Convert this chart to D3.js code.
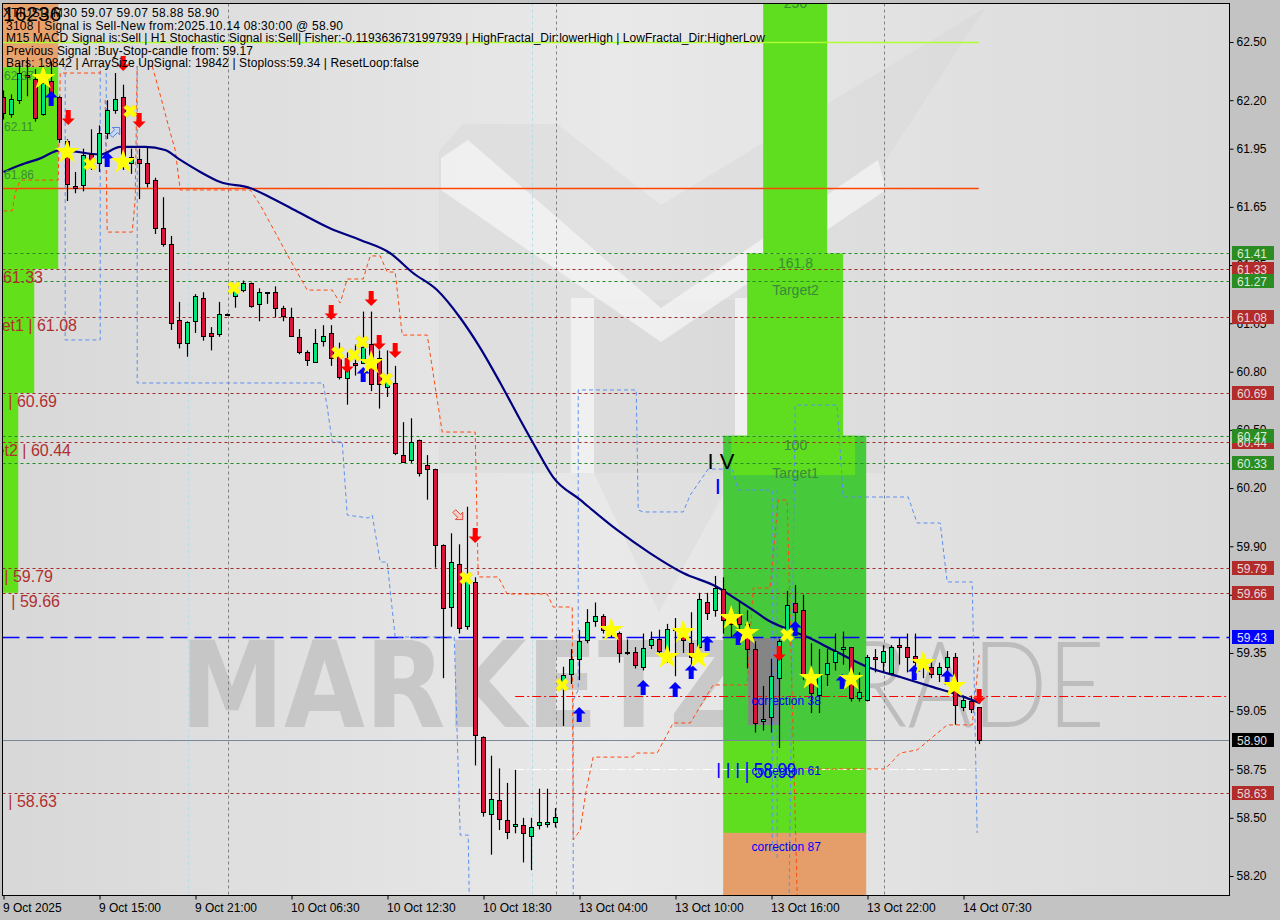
<!DOCTYPE html>
<html><head><meta charset="utf-8">
<script src="https://cdn.jsdelivr.net/npm/d3@7"></script>
<style>
body{margin:0;background:#c3c3c3;}
svg{display:block;font-family:"Liberation Sans",Arial,sans-serif;}
</style>
</head><body>
<svg id="c" width="1280" height="920"></svg>
<script>
// ---------------- DATA ----------------
const xLabels = ["9 Oct 2025","9 Oct 15:00","9 Oct 21:00","10 Oct 06:30","10 Oct 12:30","10 Oct 18:30","13 Oct 04:00","13 Oct 10:00","13 Oct 16:00","13 Oct 22:00","14 Oct 07:30"];
const xLabelIdx = [0,12,24,36,48,60,72,84,96,108,120];
const yTicks = [62.50,62.20,61.95,61.65,61.35,61.05,60.80,60.50,60.20,59.90,59.65,59.35,59.05,58.75,58.50,58.20];

const opens  = [62.215,62.13,62.20,62.33,62.31,62.13,62.30,62.215,61.99,61.76,61.76,61.92,61.875,62.03,62.15,62.215,61.875,61.895,61.875,61.79,61.54,61.46,61.067,60.947,61.063,61.18,61.00,60.995,61.097,61.19,61.218,61.256,61.147,61.21,61.21,61.127,61.083,60.977,60.90,60.847,60.958,60.998,60.88,60.77,60.847,60.847,60.943,60.87,60.723,60.743,60.37,60.345,60.447,60.317,60.297,59.907,59.585,59.807,59.49,59.717,58.918,58.52,58.59,58.49,58.458,58.463,58.41,58.466,58.47,58.478,59.207,59.24,59.317,59.413,59.516,59.54,59.47,59.455,59.357,59.357,59.277,59.39,59.42,59.36,59.48,59.46,59.40,59.38,59.614,59.57,59.678,59.52,59.55,59.50,59.369,59.00,59.018,59.22,59.46,59.606,59.571,59.24,59.133,59.24,59.305,59.369,59.38,59.12,59.107,59.327,59.305,59.245,59.39,59.379,59.334,59.31,59.28,59.24,59.276,59.33,59.07,59.10,59.07];
const highs  = [62.25,62.23,62.39,62.42,62.36,62.38,62.40,62.22,62.00,61.83,61.95,62.05,62.07,62.20,62.34,62.28,61.95,61.95,61.96,61.80,61.70,61.50,61.16,61.06,61.20,61.21,61.03,61.16,61.10,61.24,61.27,61.26,61.23,61.21,61.24,61.14,61.13,61.02,60.91,61.02,61.04,61.04,60.95,60.90,60.94,61.11,61.11,60.91,60.91,60.83,60.54,60.56,60.45,60.37,60.30,59.91,59.967,59.91,60.104,59.74,58.92,58.82,58.755,58.68,58.747,58.50,58.50,58.65,58.65,58.55,59.279,59.37,59.468,59.576,59.61,59.55,59.50,59.46,59.42,59.38,59.45,59.46,59.47,59.50,59.53,59.47,59.56,59.66,59.66,59.747,59.74,59.58,59.62,59.57,59.41,59.18,59.32,59.42,59.67,59.70,59.65,59.40,59.37,59.37,59.45,59.46,59.38,59.25,59.34,59.37,59.39,59.39,59.43,59.45,59.45,59.34,59.30,59.30,59.36,59.35,59.13,59.13,59.07];
const lows   = [62.10,62.11,62.18,62.22,62.09,62.12,62.18,61.98,61.68,61.72,61.73,61.84,61.83,62.00,62.13,61.84,61.82,61.69,61.75,61.51,61.445,61.015,60.92,60.877,61.00,60.96,60.91,60.98,61.09,61.13,61.21,61.13,61.06,61.15,61.08,61.06,60.98,60.89,60.83,60.845,60.93,60.83,60.76,60.63,60.78,60.84,60.70,60.61,60.67,60.37,60.33,60.33,60.26,60.14,59.79,59.22,59.485,59.45,59.47,58.77,58.506,58.31,58.437,58.39,58.42,58.27,58.23,58.44,58.45,58.45,58.973,59.19,59.21,59.40,59.485,59.45,59.43,59.30,59.34,59.27,59.26,59.37,59.34,59.30,59.23,59.35,59.28,59.32,59.52,59.537,59.45,59.43,59.40,59.27,58.94,58.95,58.94,58.86,59.45,59.50,59.21,59.04,59.04,59.18,59.26,59.29,59.10,59.10,59.10,59.25,59.25,59.24,59.29,59.25,59.28,59.22,59.22,59.20,59.20,58.98,59.05,59.04,58.88];
const closes = [62.13,62.205,62.34,62.32,62.11,62.29,62.22,62.00,61.77,61.75,61.915,61.89,62.03,62.15,62.205,61.91,61.905,61.875,61.77,61.54,61.46,61.055,60.947,61.055,61.19,60.985,60.985,61.097,61.097,61.22,61.256,61.135,61.21,61.21,61.127,61.087,60.985,60.90,60.857,60.947,60.985,60.87,60.77,60.81,60.838,60.93,60.735,60.735,60.749,60.38,60.336,60.44,60.276,60.297,59.907,59.583,59.817,59.477,59.735,58.927,58.532,58.595,58.49,58.43,58.47,58.42,58.455,58.48,58.48,58.506,59.236,59.317,59.41,59.508,59.54,59.468,59.46,59.35,59.357,59.288,59.377,59.42,59.36,59.475,59.47,59.42,59.33,59.627,59.557,59.686,59.52,59.50,59.50,59.37,58.987,59.01,59.23,59.413,59.597,59.56,59.241,59.14,59.24,59.297,59.362,59.379,59.116,59.15,59.327,59.317,59.362,59.379,59.379,59.328,59.305,59.28,59.245,59.276,59.328,59.08,59.107,59.06,58.90];

// moving average (bar index, price)
const maLine = [[0,61.83],[2.1,61.866],[4.6,61.90],[7.1,61.943],[12.1,61.92],[14.6,61.959],[17.7,61.959],[20.2,61.943],[22.1,61.892],[24.6,61.83],[27.1,61.778],[30.8,61.747],[33.3,61.70],[37.1,61.618],[40.8,61.54],[44.6,61.479],[48.3,61.412],[51.2,61.309],[54.2,61.221],[57.1,61.077],[59.6,60.922],[62.1,60.742],[64.6,60.551],[66.7,60.396],[68.7,60.257],[72.1,60.139],[76.7,59.984],[80.8,59.865],[84.96,59.762],[89.2,59.69],[91.2,59.638],[93.7,59.571],[95.5,59.52],[98.3,59.468],[100.5,59.432],[103.7,59.365],[108.0,59.278],[112.1,59.226],[116.2,59.174],[118.7,59.143],[122.1,59.091]];

// fractal channel (blue dashed) segments
const blueSteps = [
 [[7.71,62.376],[7.71,60.964],[12.09,60.964],[12.09,62.376]],
 [[12.84,62.376],[12.84,61.959]],
 [[16.71,62.376],[16.71,60.742],[39.96,60.742],[40.46,60.618],[41.09,60.438],[42.34,60.438],[42.96,60.061],[45.59,60.046],[46.09,60.061],[47.09,59.819],[47.96,59.819],[48.96,59.432],[56.34,59.432],[57.09,58.411],[58.09,58.411],[58.21,58.097]],
 [[71.21,58.097],[71.21,59.107],[71.84,59.159],[71.84,60.706],[79.09,60.706],[79.34,60.087],[79.96,60.077],[84.96,60.077],[85.84,60.164],[88.09,60.298],[91.09,60.298],[91.84,60.19],[96.09,60.19],[96.09,58.318]],
 [[96.71,60.19],[96.71,58.282]],
 [[98.21,58.112],[98.96,60.628],[104.21,60.628],[104.96,60.154],[113.09,60.154],[114.2,60.02],[117.09,60.02],[117.96,59.716],[121.09,59.716],[121.71,58.422]]
];
// orange dashed step line segments
const orangeSteps = [
 [[-0.04,61.629],[1.09,61.629],[1.46,61.721],[2.09,61.788],[6.84,61.788],[7.09,62.34],[12.09,62.34],[12.09,62.376]],
 [[12.71,62.201],[12.96,61.52],[16.09,61.52],[16.46,61.685],[16.71,62.376]],
 [[18.59,62.376],[19.59,62.227],[20.59,62.072],[21.46,61.943],[22.09,61.737],[30.84,61.737],[32.09,61.66],[35.84,61.376],[37.96,61.221],[41.09,61.221],[42.09,61.154],[42.96,61.278],[44.96,61.278],[45.84,61.397],[47.09,61.397],[47.96,61.314],[48.96,61.314],[49.84,60.989],[52.96,60.989],[54.84,60.489],[58.96,60.489],[59.34,59.742],[61.84,59.742],[62.96,59.654],[67.96,59.654],[68.71,59.587],[71.09,59.587],[71.21,58.386],[72.09,58.437],[72.84,58.643],[73.71,58.813],[78.71,58.813],[79.09,58.834],[81.71,58.834],[83.71,58.989],[85.84,58.989],[88.71,59.185],[92.96,59.185],[93.71,59.685],[95.84,59.685],[96.84,60.139],[97.96,60.139],[99.21,58.097]],
 [[99.21,58.752],[110.21,58.752],[112.09,58.834],[114.21,58.85],[117.96,58.979],[121.09,58.979],[121.96,59.339]]
];

// levels
const greenLevels = [61.41,61.27,60.47,60.33];
const redLevels   = [61.33,61.08,60.69,60.44,59.79,59.66,58.63];
const blueLevel = 59.43, lastPrice = 58.90, limeLevel = 62.50, orangeLevel = 61.746;
const redDashDot = {price:59.128, from:63.96};
const whiteDashDot = {price:58.752, from:63.96, to:121.9};
const gridIdx = [28,69,110];
const cyanIdx = [23,66];

// left labels
const leftLabels = [
 {t:"61.33", p:61.33, end:43},
 {t:"Target1 | 61.08", p:61.08, end:77},
 {t:"| 60.69", p:60.69, end:57},
 {t:"Target2 | 60.44", p:60.44, end:71},
 {t:"| 59.79", p:59.79, end:53},
 {t:"| 59.66", p:59.66, end:60},
 {t:"| 58.63", p:58.63, end:57}
];
const zoneLevelLabels = [{t:"62.37",p:62.37},{t:"62.11",p:62.11},{t:"61.86",p:61.86}];

// signals
const downArrows = [[8.09,62.113],[14.96,62.392],[16.96,62.098],[40.96,61.108],[42.96,60.835],[45.96,61.18],[46.96,60.953],[48.96,60.912],[58.96,59.958],[96.96,59.35],[121.96,59.128]];
const upArrows = [[5.96,62.206],[12.96,61.892],[44.96,60.783],[71.96,59.03],[79.96,59.169],[83.96,59.159],[85.96,59.252],[87.96,59.396],[91.84,59.427],[98.96,59.473],[104.84,59.2],[113.84,59.247],[117.96,59.221]];
const stars = [[4.96,62.314],[7.96,61.933],[14.96,61.881],[45.96,60.845],[75.96,59.468],[82.96,59.329],[84.96,59.458],[86.84,59.329],[90.96,59.53],[92.96,59.453],[100.96,59.221],[105.96,59.216],[114.96,59.298],[118.84,59.18]];
const crosses = [[10.84,61.871],[15.84,62.144],[28.84,61.232],[41.84,60.897],[43.84,60.886],[44.84,60.953],[47.84,60.762],[57.84,59.736],[69.84,59.185],[97.96,59.443]];
const hollowDown = [[56.84,60.061]];
const hollowUp = [[13.96,62.036]];

// zones (bar index range, price range)
const leftZones = [
 {x0:-0.6,x1:6.84,p0:62.70,p1:62.37,c:"#e8a26c"},
 {x0:-0.6,x1:6.84,p0:62.37,p1:61.33,c:"#62e01a"},
 {x0:-0.6,x1:3.84,p0:61.33,p1:60.69,c:"#62e01a"},
 {x0:-0.6,x1:1.84,p0:60.69,p1:59.66,c:"#62e01a"}
];
const targetZones = [
 {x0:94.96,x1:102.96,p0:62.70,p1:61.41,c:"#5ede1e"},
 {x0:92.96,x1:104.96,p0:61.41,p1:60.47,c:"#5ede1e"},
 {x0:89.96,x1:107.84,p0:60.47,p1:58.90,c:"#46c93a"},
 {x0:89.96,x1:107.84,p0:58.90,p1:58.422,c:"#5ede1e"},
 {x0:90.96,x1:106.46,p0:60.47,p1:60.267,c:"#5ede1e"},
 {x0:89.96,x1:107.84,p0:58.422,p1:58.00,c:"#e59e6a"}
];
const zoneTexts = [
 {t:"250",i:99.0,p:62.70,c:"#3a8a3a"},
 {t:"161.8",i:99.0,p:61.36,c:"#3a8a3a"},
 {t:"Target2",i:99.0,p:61.22,c:"#3a8a3a"},
 {t:"100",i:99.0,p:60.42,c:"#3a8a3a"},
 {t:"Target1",i:99.0,p:60.28,c:"#3a8a3a"}
];
const blueTexts = [
 {t:"correction 38",i:93.5,p:59.10},
 {t:"correction 61",i:93.5,p:58.74},
 {t:"correction 87",i:93.5,p:58.35}
];

const infoLines = [
 "3108 | Signal is Sell-New from:2025.10.14 08:30:00 @ 58.90",
 "M15 MACD Signal is:Sell | H1 Stochastic Signal is:Sell| Fisher:-0.1193636731997939 | HighFractal_Dir:lowerHigh | LowFractal_Dir:HigherLow",
 "Previous Signal :Buy-Stop-candle from: 59.17",
 "Bars: 19842 | ArraySize UpSignal: 19842 | Stoploss:59.34 | ResetLoop:false"
];
const infoLengths = [337,759,247,413];

// ---------------- DRAW ----------------
const svg = d3.select("#c");
const L=2.5,T=3.5,R=1229.5,B=895.5;
const x = d3.scaleLinear().domain([0,122]).range([3.5,979.5]);
const y = d3.scaleLinear().domain([58.2,62.5]).range([876,42]);

const defs = svg.append("defs");
const g1 = defs.append("linearGradient").attr("id","bg").attr("x1","0").attr("x2","1").attr("y1","0").attr("y2","0");
g1.append("stop").attr("offset","0").attr("stop-color","#d8d8d8");
g1.append("stop").attr("offset","0.5").attr("stop-color","#e9e9e9");
g1.append("stop").attr("offset","1").attr("stop-color","#dadada");
defs.append("clipPath").attr("id","clip").append("rect").attr("x",L+0.5).attr("y",T+0.5).attr("width",R-L-1).attr("height",B-T-1);

svg.append("rect").attr("width",1280).attr("height",920).attr("fill","#c3c3c3");
svg.append("rect").attr("x",L).attr("y",T).attr("width",R-L).attr("height",B-T).attr("fill","url(#bg)");

const P = svg.append("g").attr("clip-path","url(#clip)");

// watermark logo (decorative)
const logo = P.append("g");
const lp = (a)=>a.map(d=>d.join(",")).join(" ");
logo.append("polygon").attr("points",lp([[439,151],[463,124],[557,124],[661,205],[985,8],[886,160],[886,473],[439,473]])).attr("fill","#cfcfcf").attr("opacity",0.3);
logo.append("polygon").attr("points",lp([[594,300],[735,300],[735,473],[659,612],[594,473]])).attr("fill","#cfcfcf").attr("opacity",0.3);
logo.append("polygon").attr("points",lp([[441,158],[468,140],[661,308],[878,160],[886,190],[661,342],[441,190]])).attr("fill","#f6f6f6").attr("opacity",0.7);
logo.append("rect").attr("x",571).attr("y",298).attr("width",23).attr("height",175).attr("fill","#f6f6f6").attr("opacity",0.7);
logo.append("rect").attr("x",735).attr("y",298).attr("width",18).attr("height",175).attr("fill","#f6f6f6").attr("opacity",0.7);
logo.append("text").attr("x",180).attr("y",727).attr("font-family","DejaVu Sans").attr("font-weight","bold").attr("font-size",120).attr("textLength",565).attr("lengthAdjust","spacingAndGlyphs").attr("fill","#b8b8b8").attr("opacity",0.62).text("MARKETZ");
logo.append("text").attr("x",790).attr("y",727).attr("font-family","Lato").attr("font-weight","300").attr("font-size",120).attr("textLength",315).attr("lengthAdjust","spacingAndGlyphs").attr("fill","#b5b5b5").attr("opacity",0.8).text("TRADE");

// zones
const zoneRect = (sel,data)=>sel.selectAll(null).data(data).enter().append("rect")
 .attr("x",d=>x(d.x0)).attr("width",d=>x(d.x1)-x(d.x0))
 .attr("y",d=>y(d.p0)).attr("height",d=>y(d.p1)-y(d.p0)).attr("fill",d=>d.c);
zoneRect(P,leftZones);
zoneRect(P,targetZones);
// watermark bar showing through
P.append("rect").attr("x",x(93.09)).attr("width",x(97.09)-x(93.09)).attr("y",y(59.427)).attr("height",y(58.978)-y(59.427)).attr("fill","#858585");

// vertical grid lines
P.selectAll(null).data(gridIdx).enter().append("line")
 .attr("x1",d=>Math.round(x(d))+0.5).attr("x2",d=>Math.round(x(d))+0.5).attr("y1",T).attr("y2",B)
 .attr("stroke","#808080").attr("stroke-dasharray","3,3");
P.selectAll(null).data(cyanIdx).enter().append("line")
 .attr("x1",d=>Math.round(x(d))+0.5).attr("x2",d=>Math.round(x(d))+0.5).attr("y1",T).attr("y2",B)
 .attr("stroke","#b8dce6").attr("stroke-dasharray","3,3");

// horizontal levels
const hy = p=>Math.round(y(p))+0.5;
P.append("line").attr("x1",L).attr("x2",x(121.9)).attr("y1",hy(limeLevel)).attr("y2",hy(limeLevel)).attr("stroke","#adff2f").attr("stroke-width",1.5);
P.append("line").attr("x1",L).attr("x2",x(121.9)).attr("y1",hy(orangeLevel)).attr("y2",hy(orangeLevel)).attr("stroke","#ff4500").attr("stroke-width",1.3);
P.selectAll(null).data(redLevels).enter().append("line").attr("x1",L).attr("x2",R).attr("y1",hy).attr("y2",hy).attr("stroke","#a52a2a").attr("stroke-dasharray","3,3");
P.selectAll(null).data(greenLevels).enter().append("line").attr("x1",L).attr("x2",R).attr("y1",hy).attr("y2",hy).attr("stroke","#228b22").attr("stroke-dasharray","3,3");
P.append("line").attr("x1",L).attr("x2",R).attr("y1",hy(blueLevel)).attr("y2",hy(blueLevel)).attr("stroke","#0000ff").attr("stroke-width",1.3).attr("stroke-dasharray","17,7");
P.append("line").attr("x1",x(redDashDot.from)).attr("x2",R).attr("y1",hy(redDashDot.price)).attr("y2",hy(redDashDot.price)).attr("stroke","#ff0000").attr("stroke-width",1.2).attr("stroke-dasharray","9,3,2,3");
P.append("line").attr("x1",L).attr("x2",R).attr("y1",hy(lastPrice)).attr("y2",hy(lastPrice)).attr("stroke","#778899");
P.append("line").attr("x1",x(whiteDashDot.from)).attr("x2",x(whiteDashDot.to)).attr("y1",hy(whiteDashDot.price)).attr("y2",hy(whiteDashDot.price)).attr("stroke","#ffffff").attr("stroke-width",1.2).attr("stroke-dasharray","9,3,2,3");

// step lines
const ln = d3.line().x(d=>x(d[0])).y(d=>y(d[1]));
P.selectAll(null).data(blueSteps).enter().append("path").attr("d",ln).attr("fill","none").attr("stroke","#5b8ff0").attr("stroke-dasharray","4,3");
P.selectAll(null).data(orangeSteps).enter().append("path").attr("d",ln).attr("fill","none").attr("stroke","#ff4a10").attr("stroke-dasharray","4,3");

// MA
P.append("path").attr("d",d3.line().x(d=>x(d[0])).y(d=>y(d[1])).curve(d3.curveMonotoneX)(maLine)).attr("fill","none").attr("stroke","#000080").attr("stroke-width",2.2);

// candles
const candles = opens.map((o,i)=>({i,o,h:highs[i],l:lows[i],c:closes[i]}));
const cg = P.append("g");
cg.selectAll(null).data(candles).enter().append("line")
 .attr("x1",d=>x(d.i)).attr("x2",d=>x(d.i)).attr("y1",d=>y(d.h)).attr("y2",d=>y(d.l)).attr("stroke","#000").attr("stroke-width",1.2);
cg.selectAll(null).data(candles).enter().append("rect")
 .attr("x",d=>x(d.i)-2).attr("width",4)
 .attr("y",d=>Math.round(y(Math.max(d.o,d.c)))+0.5)
 .attr("height",d=>Math.max(1,Math.round(y(Math.min(d.o,d.c))-y(Math.max(d.o,d.c)))))
 .attr("fill",d=>d.c>=d.o?"#00e676":"#dc143c").attr("stroke","#000").attr("stroke-width",1);

// signals
const arrowUp = "M0,-8 L6.5,-1.5 L2.5,-1.5 L2.5,7 L-2.5,7 L-2.5,-1.5 L-6.5,-1.5 Z";
P.selectAll(null).data(upArrows).enter().append("path").attr("d",arrowUp)
 .attr("transform",d=>`translate(${x(d[0])},${y(d[1])})`).attr("fill","#0000ff");
P.selectAll(null).data(downArrows).enter().append("path").attr("d",arrowUp)
 .attr("transform",d=>`translate(${x(d[0])},${y(d[1])}) rotate(180)`).attr("fill","#ff0000");
P.selectAll(null).data(hollowDown).enter().append("path").attr("d",arrowUp)
 .attr("transform",d=>`translate(${x(d[0])},${y(d[1])}) rotate(135) scale(0.8)`).attr("fill","#f4d0c8").attr("stroke","#e03020");
P.selectAll(null).data(hollowUp).enter().append("path").attr("d",arrowUp)
 .attr("transform",d=>`translate(${x(d[0])},${y(d[1])}) rotate(45) scale(0.8)`).attr("fill","#c8d8f4").attr("stroke","#4070e0");
P.selectAll(null).data(stars).enter().append("path").attr("d",d3.symbol(d3.symbolStar,190))
 .attr("transform",d=>`translate(${x(d[0])},${y(d[1])})`).attr("fill","#ffff00");
P.selectAll(null).data(crosses).enter().append("path").attr("d",d3.symbol(d3.symbolCross,110))
 .attr("transform",d=>`translate(${x(d[0])},${y(d[1])}) rotate(45)`).attr("fill","#ffff00").attr("stroke","#e0d060").attr("stroke-width",0.5);

// zone texts
P.selectAll(null).data(zoneTexts).enter().append("text").attr("x",d=>x(d.i)).attr("y",d=>y(d.p)+5)
 .attr("text-anchor","middle").attr("font-size",14).attr("fill",d=>d.c).text(d=>d.t);
P.selectAll(null).data(blueTexts).enter().append("text").attr("x",d=>x(d.i)).attr("y",d=>y(d.p)+4)
 .attr("font-size",12).attr("fill","#0000ff").text(d=>d.t);
P.append("text").attr("x",x(88.0)).attr("y",y(60.30)).attr("font-size",22).attr("fill","#000").text("I V");
P.append("text").attr("x",x(88.9)).attr("y",y(60.17)).attr("font-size",22).attr("fill","#0000ff").text("I");
P.append("text").attr("x",x(89.1)).attr("y",y(58.705)).attr("font-size",22).attr("textLength",80).attr("lengthAdjust","spacingAndGlyphs").attr("fill","#0000ff").text("I I I | 58.99");

// left labels
P.selectAll(null).data(leftLabels).enter().append("text").attr("x",d=>d.end).attr("y",d=>y(d.p)+14)
 .attr("text-anchor","end").attr("font-size",16).attr("fill","#b03030").text(d=>d.t);
P.selectAll(null).data(zoneLevelLabels).enter().append("text").attr("x",4).attr("y",d=>y(d.p)+13)
 .attr("font-size",12).attr("fill","#3a8a3a").text(d=>d.t);

// info text
P.append("text").attr("x",3).attr("y",17).attr("font-size",12).attr("fill","#000").attr("textLength",216).attr("lengthAdjust","spacing").text("XTIUSD,M30  59.07 59.07 58.88 58.90");
P.append("text").attr("x",3).attr("y",21).attr("font-size",21).attr("fill","#000").text("16236");
P.selectAll(null).data(infoLines).enter().append("text").attr("x",6).attr("y",(d,i)=>29.5+12.5*i)
 .attr("font-size",12).attr("fill","#000").attr("textLength",(d,i)=>infoLengths[i]).attr("lengthAdjust","spacing").text(d=>d);

// frame
svg.append("rect").attr("x",L).attr("y",T).attr("width",R-L).attr("height",B-T).attr("fill","none").attr("stroke","#000");

// axes
const ya = svg.append("g").attr("transform",`translate(${R},0)`)
 .call(d3.axisRight(y).tickValues(yTicks).tickSize(4).tickPadding(3).tickFormat(d3.format(".2f")));
ya.select(".domain").remove();
ya.selectAll("text").attr("font-size",12).attr("font-family","Liberation Sans").attr("fill","#000");
ya.selectAll("line").attr("stroke","#000");

const xa = svg.append("g").attr("transform",`translate(0,${B})`)
 .call(d3.axisBottom(x).tickValues(xLabelIdx).tickSize(4).tickPadding(4).tickFormat((d,i)=>xLabels[i]));
xa.select(".domain").remove();
xa.selectAll("text").attr("font-size",12).attr("font-family","Liberation Sans").attr("fill","#000").attr("text-anchor","start").attr("dx",-1);
xa.selectAll("line").attr("stroke","#000");

// price boxes on axis
const boxes = [];
redLevels.forEach(p=>boxes.push({p,bg:"#b22c2c",fg:"#e8d8d8"}));
greenLevels.forEach(p=>boxes.push({p,bg:"#2a8c22",fg:"#d8ecd8"}));
boxes.push({p:blueLevel,bg:"#0000ff",fg:"#e0e0ff"});
boxes.push({p:lastPrice,bg:"#000000",fg:"#e0e0e0"});
const bx = svg.append("g");
bx.selectAll(null).data(boxes).enter().append("rect").attr("x",1232).attr("width",42)
 .attr("y",d=>Math.round(y(d.p))-7).attr("height",14).attr("fill",d=>d.bg);
bx.selectAll(null).data(boxes).enter().append("text").attr("x",1237).attr("y",d=>Math.round(y(d.p))+4.5)
 .attr("font-size",12).attr("fill",d=>d.fg).text(d=>d.p.toFixed(2));
</script>
</body></html>
